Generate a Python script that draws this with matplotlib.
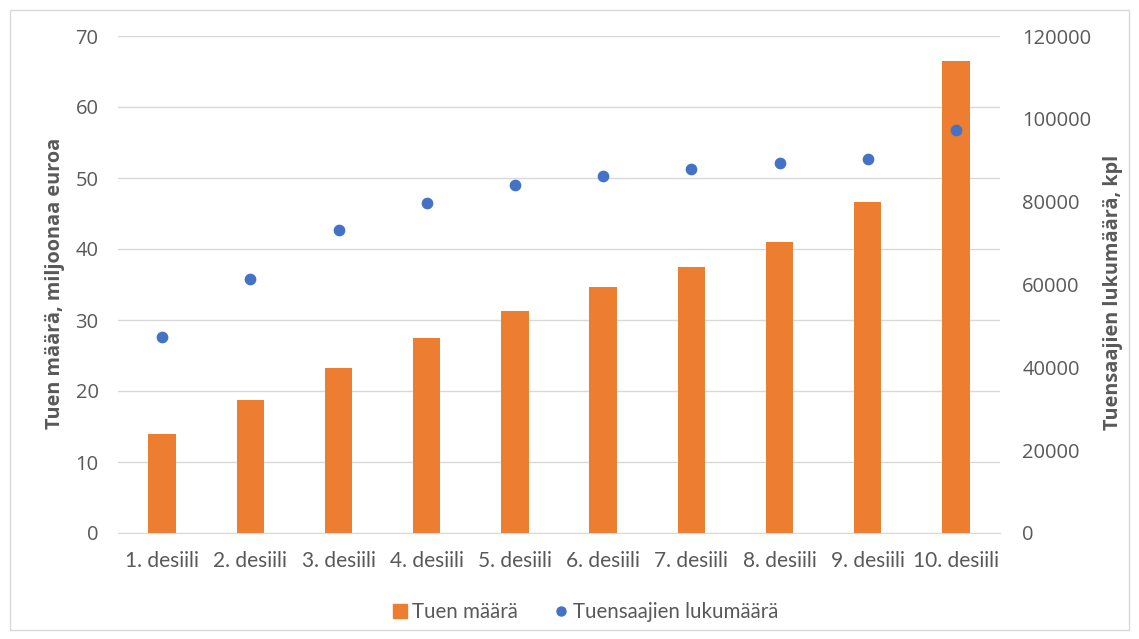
import matplotlib
matplotlib.use("Agg")
import matplotlib.pyplot as plt
import numpy as np
from matplotlib.patches import Rectangle
from matplotlib.lines import Line2D

categories = ["1. desiili", "2. desiili", "3. desiili", "4. desiili", "5. desiili",
              "6. desiili", "7. desiili", "8. desiili", "9. desiili", "10. desiili"]
tuen_maara = [13.9, 18.8, 23.3, 27.4, 31.2, 34.6, 37.5, 41.0, 46.6, 66.5]
tuensaajat = [47250, 61250, 73230, 79600, 83950, 86200, 87900, 89250, 90250, 97250]
left_ticks = [0, 10, 20, 30, 40, 50, 60, 70]
right_ticks = [0, 20000, 40000, 60000, 80000, 100000, 120000]

ORANGE = "#ED7D31"
BLUE = "#4472C4"
TXT = "#595959"
GRID = "#D9D9D9"

fig = plt.figure(figsize=(11.39, 6.39), dpi=100)
fig.patches.append(Rectangle((10/1139, 1-630/639), 1119/1139, 620/639, transform=fig.transFigure,
                             fill=False, edgecolor="#D9D9D9", linewidth=1))
ax = fig.add_axes([118/1139, 1-533/639, 882/1139, 497/639])
ax2 = ax.twinx()

x = np.arange(len(categories))
ax.bar(x, tuen_maara, width=0.31, color=ORANGE, zorder=2)
ax.set_xlim(-0.5, len(categories) - 0.5)
ax.set_ylim(0, 70)
ax.set_yticks(left_ticks)
ax.grid(axis="y", color=GRID, linewidth=1, zorder=0)
ax.set_axisbelow(True)
ax.set_xticks(x)
ax.set_xticklabels(categories, fontsize=15, color=TXT, family="Lato")
ax.tick_params(axis="x", length=0, pad=13)
ax.tick_params(axis="y", length=0, pad=14, labelsize=14.5, labelcolor=TXT)
for lab in ax.get_yticklabels():
    lab.set_family("Open Sans")
for s in ["top", "left", "right"]:
    ax.spines[s].set_visible(False)
ax.spines["bottom"].set_color(GRID)

ax2.scatter(x, tuensaajat, s=55, color=BLUE, zorder=3)
ax2.set_ylim(0, 120000)
ax2.set_yticks(right_ticks)
ax2.tick_params(axis="y", length=0, pad=16, labelsize=14.5, labelcolor=TXT)
for lab in ax2.get_yticklabels():
    lab.set_family("Open Sans")
for s in ax2.spines.values():
    s.set_visible(False)

fig.text(55/1139, 1-283/639, "Tuen määrä, miljoonaa euroa", rotation=90, ha="center", va="center",
         fontsize=14.3, fontweight="bold", color=TXT, family="Open Sans")
fig.text(1113/1139, 1-292/639, "Tuensaajien lukumäärä, kpl", rotation=90, ha="center", va="center",
         fontsize=14.3, fontweight="bold", color=TXT, family="Open Sans")

handles = [Line2D([], [], marker="s", linestyle="", color=ORANGE, markersize=10),
           Line2D([], [], marker="o", linestyle="", color=BLUE, markersize=6.5)]
fig.legend(handles, ["Tuen määrä", "Tuensaajien lukumäärä"], loc="center",
           bbox_to_anchor=(584/1139, 1-612/639), ncol=2, frameon=False,
           prop={"family": "Lato", "size": 14.8}, labelcolor=TXT,
           handletextpad=0.1, columnspacing=1.6, handlelength=1.0)

fig.savefig("out.png", dpi=100, facecolor="white")
